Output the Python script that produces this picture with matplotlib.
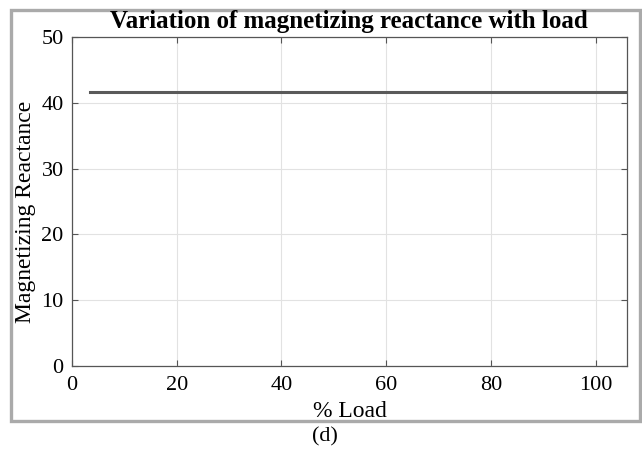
import matplotlib.pyplot as plt
from matplotlib.patches import Rectangle

# data
load = [3.5, 20, 40, 60, 80, 100, 110]
reactance = [41.6, 41.6, 41.6, 41.6, 41.6, 41.6, 41.6]
xticks = [0, 20, 40, 60, 80, 100]
yticks = [0, 10, 20, 30, 40, 50]

plt.rcParams['font.family'] = ['Liberation Serif', 'DejaVu Serif']

fig = plt.figure(figsize=(6.42, 4.49), dpi=100)
ax = fig.add_axes([0.1121, 0.1849, 0.8645, 0.7327])

ax.plot(load, reactance, color='#5a5a5a', linewidth=2.2)

ax.set_xlim(0, 106)
ax.set_ylim(0, 50)
ax.set_xticks(xticks)
ax.set_yticks(yticks)
ax.grid(True, color='#e2e2e2', linewidth=0.8)
ax.set_axisbelow(True)
ax.tick_params(direction='in', top=True, right=True, length=4, width=0.8,
               color='#555555', labelsize=16)
ax.tick_params(axis='x', pad=7)
ax.tick_params(axis='y', pad=6)
for s in ax.spines.values():
    s.set_color('#555555')
    s.set_linewidth(0.9)

fig.text(0.544, 0.952, 'Variation of magnetizing reactance with load',
         ha='center', va='center', fontsize=18, fontweight='bold')
fig.text(0.545, 0.083, '% Load', ha='center', va='center', fontsize=17)
fig.text(0.040, 0.528, 'Magnetizing Reactance', ha='center', va='center',
         rotation=90, fontsize=17)
fig.text(0.506, 0.027, '(d)', ha='center', va='center', fontsize=16)

# grey frame around the plot
fig.patches.append(Rectangle((0.0164, 0.0624), 0.9806, 0.9164,
                             transform=fig.transFigure, fill=False,
                             edgecolor='#aaaaaa', linewidth=2.4))

fig.savefig('out.png', dpi=100)
